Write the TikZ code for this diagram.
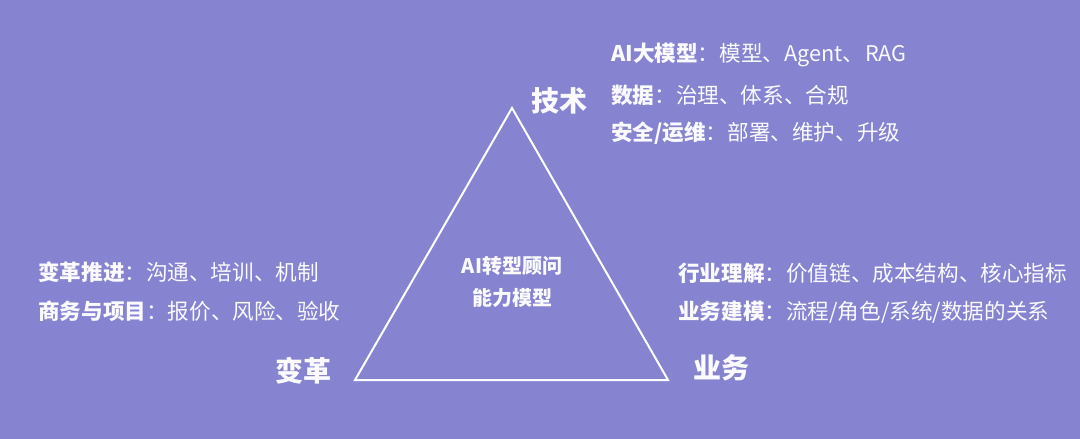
\documentclass[tikz,border=0pt]{standalone}
\usepackage{fontspec}
\newfontfamily\cjk{Noto Sans CJK SC}
\definecolor{bgpurple}{RGB}{134,131,208}
\definecolor{txtwhite}{RGB}{250,250,255}
\begin{document}
\begin{tikzpicture}[x=1pt,y=-1pt,
  item/.style={anchor=west,inner sep=0pt,text=txtwhite,font=\cjk\fontsize{21.6}{25}\selectfont},
  corner/.style={inner sep=0pt,text=txtwhite,font=\cjk\bfseries\fontsize{28}{32}\selectfont},
  center/.style={inner sep=0pt,text=txtwhite,font=\cjk\bfseries\fontsize{20}{24}\selectfont}]
\fill[bgpurple] (0,0) rectangle (1080,439);
\useasboundingbox (0,0) rectangle (1080,439);
\coordinate (T) at (512,108);
\coordinate (L) at (355,380);
\coordinate (R) at (668,380);
\draw[white,line width=2pt,line join=miter] (T) -- (L) -- (R) -- cycle;
\node[center] (c1) at (512,266) {AI转型顾问};
\node[center] (c2) at (512,298) {能力模型};
\node[corner] (tech) at (559,101) {技术};
\node[corner] (chg) at (303,371) {变革};
\node[corner] (biz) at (721,368) {业务};
\node[item] (t1) at (611,55) {\textbf{AI大模型}：模型、Agent、\kern1ptRAG};
\node[item] (t2) at (611,95) {\textbf{数据}：治理、体系、合规};
\node[item] (t3) at (611,133) {\textbf{安全/运维}：部署、维护、升级};
\node[item] (l1) at (38,272) {\textbf{变革推进}：沟通、培训、机制};
\node[item] (l2) at (38,311) {\textbf{商务与项目}：报价、风险、验收};
\node[item] (r1) at (678,273) {\textbf{行业理解}：价值链、成本结构、核心指标};
\node[item] (r2) at (678,312) {\textbf{业务建模}：流程/角色/系统/数据的关系};
\end{tikzpicture}
\end{document}
